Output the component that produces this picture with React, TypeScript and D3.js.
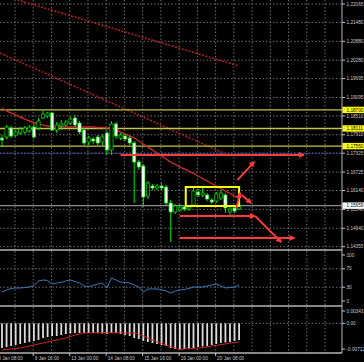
import * as d3 from "d3";

// H4 candles, oldest first
const open = [1.17808, 1.1784, 1.18125, 1.17903, 1.17967, 1.17998, 1.1803, 1.18157, 1.18125, 1.18443, 1.18507, 1.18602, 1.18062, 1.18189, 1.18221, 1.18284, 1.18443, 1.18284, 1.18062, 1.17681, 1.17776, 1.1784, 1.17681, 1.17967, 1.17427, 1.18253, 1.17808, 1.17871, 1.17808, 1.17649, 1.17045, 1.16918, 1.15965, 1.16283, 1.16219, 1.16283, 1.16251, 1.15743, 1.15457, 1.1552, 1.15616, 1.15552, 1.15679, 1.16092, 1.15997, 1.15997, 1.15838, 1.15806, 1.15902, 1.15997, 1.15457, 1.15584, 1.15552];
const high = [1.17903, 1.18221, 1.18189, 1.18062, 1.18157, 1.18189, 1.18221, 1.18253, 1.18443, 1.18697, 1.18634, 1.18634, 1.18316, 1.1838, 1.1838, 1.18475, 1.18538, 1.18348, 1.18125, 1.17871, 1.1784, 1.17903, 1.17935, 1.1803, 1.18348, 1.18316, 1.17967, 1.17935, 1.17871, 1.17712, 1.17109, 1.16982, 1.16442, 1.16346, 1.16346, 1.16378, 1.16315, 1.15838, 1.15711, 1.15711, 1.15679, 1.15679, 1.16283, 1.16187, 1.16219, 1.1606, 1.15902, 1.16092, 1.16156, 1.1606, 1.15616, 1.15647, 1.15711];
const low = [1.17522, 1.17776, 1.17808, 1.1784, 1.17903, 1.17935, 1.17967, 1.17776, 1.18062, 1.18411, 1.18443, 1.1803, 1.17967, 1.18062, 1.18157, 1.18221, 1.18157, 1.17935, 1.17585, 1.17585, 1.17617, 1.17585, 1.17554, 1.17268, 1.17268, 1.17776, 1.17744, 1.17712, 1.17585, 1.15743, 1.16791, 1.15616, 1.1587, 1.16156, 1.16156, 1.16156, 1.15679, 1.14504, 1.15393, 1.15457, 1.15489, 1.15489, 1.15616, 1.15933, 1.15933, 1.15806, 1.15711, 1.15743, 1.15838, 1.15425, 1.15362, 1.15425, 1.1552];
const close = [1.17744, 1.18157, 1.17871, 1.17998, 1.18094, 1.18125, 1.18157, 1.1784, 1.18348, 1.1857, 1.18602, 1.18062, 1.18221, 1.18253, 1.18316, 1.18411, 1.18221, 1.17998, 1.17649, 1.17808, 1.17712, 1.17649, 1.1784, 1.17427, 1.18253, 1.17871, 1.17903, 1.17776, 1.17649, 1.17045, 1.16886, 1.15933, 1.16378, 1.16219, 1.16283, 1.16219, 1.15743, 1.15457, 1.15647, 1.15616, 1.15552, 1.15616, 1.16124, 1.15997, 1.1606, 1.1587, 1.15774, 1.16029, 1.1606, 1.15584, 1.15552, 1.15489, 1.15659];

// moving average on the price panel
const ma = [1.18761, 1.18666, 1.18602, 1.18538, 1.18475, 1.18411, 1.18348, 1.183, 1.18253, 1.18221, 1.18189, 1.18173, 1.18157, 1.18157, 1.18157, 1.18157, 1.18157, 1.18157, 1.18157, 1.18157, 1.18157, 1.18141, 1.18141, 1.18125, 1.1811, 1.18062, 1.17998, 1.17935, 1.17871, 1.17808, 1.17712, 1.17617, 1.17522, 1.17427, 1.17331, 1.17236, 1.17141, 1.17045, 1.16966, 1.16886, 1.16823, 1.16759, 1.1668, 1.16601, 1.16521, 1.16442, 1.16362, 1.16283, 1.16203, 1.16124, 1.16045, 1.15965, 1.15902];

const rsi = [19.6, 23.9, 27.2, 28.3, 28.3, 29.3, 30.4, 33.7, 43.5, 45.7, 44.6, 37.0, 39.1, 40.2, 43.5, 45.7, 42.4, 39.1, 32.6, 31.5, 33.7, 37.0, 39.1, 28.3, 50.0, 45.7, 41.3, 40.2, 39.1, 34.8, 30.4, 19.6, 26.1, 26.1, 26.1, 25.0, 21.7, 17.4, 21.7, 23.9, 25.0, 27.2, 30.4, 30.4, 30.4, 32.6, 34.8, 37.0, 32.6, 28.3, 29.3, 30.4, 34.8];

const macd = [-0.00684, -0.00657, -0.00629, -0.00601, -0.00573, -0.00545, -0.00518, -0.0049, -0.00462, -0.00407, -0.00379, -0.00351, -0.00351, -0.00323, -0.00296, -0.00282, -0.00268, -0.00268, -0.00268, -0.00268, -0.00268, -0.00268, -0.00282, -0.00296, -0.00268, -0.00268, -0.00296, -0.00323, -0.00351, -0.00407, -0.00434, -0.0049, -0.00518, -0.00545, -0.00573, -0.00601, -0.00629, -0.00684, -0.00712, -0.00712, -0.00712, -0.00698, -0.00684, -0.00657, -0.00643, -0.00629, -0.00601, -0.00573, -0.00545, -0.00532, -0.00518, -0.0049, -0.00462];
const signal = [-0.0074, -0.00726, -0.00712, -0.00698, -0.00684, -0.00657, -0.00629, -0.00601, -0.00573, -0.00545, -0.00518, -0.0049, -0.00462, -0.00434, -0.00407, -0.00365, -0.00323, -0.00296, -0.00268, -0.00268, -0.0026, -0.0026, -0.0026, -0.0026, -0.0026, -0.0026, -0.0026, -0.00268, -0.00268, -0.00268, -0.00296, -0.00351, -0.00407, -0.00462, -0.00518, -0.00559, -0.00601, -0.00643, -0.00684, -0.00726, -0.00712, -0.00704, -0.00698, -0.00684, -0.0067, -0.00657, -0.00629, -0.00615, -0.00587, -0.00573, -0.00545, -0.00532, -0.00518];

const priceTicks = ["1.22065", "1.21480", "1.20880", "1.20280", "1.19695", "1.19095", "1.18510", "1.17910", "1.17325", "1.16725", "1.16140", "1.15540", "1.14940", "1.14355"];
const timeLabels = ["8 Jan 08:00", "9 Jan 16:00", "13 Jan 00:00", "14 Jan 08:00", "15 Jan 16:00", "19 Jan 00:00", "20 Jan 08:00"];
const levels = ["1.18700", "1.18111", "1.17550"];
const bid = "1.15659";
const blueLevel = 1.17325;

// drawn objects: [bar, price] pairs
const trendLines = [
  [[3.4, 1.22192], [52, 1.20095]],
  [[-0.45, 1.20508], [50, 1.17236]],
];
const arrows = [
  [[26, 1.17268], [66.2, 1.17268]],
  [[51.6, 1.16473], [55.3, 1.17045]],
  [[51.4, 1.15584], [52.2, 1.1606]],
  [[52.6, 1.15997], [54.6, 1.15743]],
  [[39, 1.1533], [55.4, 1.1533]],
  [[55.5, 1.1533], [61.2, 1.14504]],
  [[39, 1.14631], [64.1, 1.14631]],
];
const box = [[40.3, 1.16251], [52, 1.15647]];

const FONT = "'Liberation Sans', Arial, sans-serif";
const GRID = "#6e6e6e";
const TXT = "#c8c8c8";

export default function App() {
  const right = 342;
  const x = d3.scaleLinear().domain([0, 52]).range([2, 239.1]);
  const y = d3.scaleLinear().domain([1.1425, 1.22192]).range([250, 0]);
  const yR = d3.scaleLinear().domain([0, 100]).range([301, 255]);
  const yM = d3.scaleLinear().domain([-0.00712, 0.00343]).range([349, 311]);
  const gridX = d3.range(-1, 18).map((k) => x(2.85 + 4 * k));

  const maLine = d3.line<number>().x((_, i) => x(i)).y((d) => y(d)).curve(d3.curveMonotoneX);
  const rsiLine = d3.line<number>().x((_, i) => x(i)).y((d) => yR(d));
  const sigLine = d3.line<number>().x((_, i) => x(i)).y((d) => yM(d)).curve(d3.curveMonotoneX);

  const vGrid = (y0: number, y1: number) =>
    gridX.filter((g) => g > 0 && g < right).map((g, i) => (
      <line key={i} x1={g} x2={g} y1={y0} y2={y1} stroke={GRID} strokeDasharray="1.5,2" />
    ));

  const label = (txt: string, py: number, bg?: string, key?: string | number) => (
    <g key={key}>
      {bg && <rect x={right + 0.5} y={py - 3.2} width={22} height={6.4} fill={bg} />}
      <line x1={right} x2={right + 3} y1={py} y2={py} stroke={TXT} />
      <text x={right + 4.5} y={py} dy="0.35em" fontSize={4.7} fill={bg ? "#000" : TXT}>{txt}</text>
    </g>
  );

  return (
    <svg width={364} height={362} style={{ position: "absolute", left: 0, top: 0, display: "block" }} fontFamily={FONT}>
      <defs>
        <clipPath id="main"><rect x={0} y={0} width={right} height={250} /></clipPath>
        <marker id="ah" viewBox="0 0 10 10" refX={8} refY={5} markerWidth={6} markerHeight={6} markerUnits="userSpaceOnUse" orient="auto">
          <path d="M0,0L10,5L0,10z" fill="#ff3c3c" />
        </marker>
      </defs>
      <rect width={364} height={362} fill="#000" />

      {/* main panel grid */}
      {vGrid(0, 250)}
      {priceTicks.map((t, i) => (
        <line key={i} x1={0} x2={right} y1={y(+t)} y2={y(+t)} stroke={GRID} strokeDasharray="1.5,2" />
      ))}

      <g clipPath="url(#main)">
        {trendLines.map((l, i) => (
          <line key={i} x1={x(l[0][0])} y1={y(l[0][1])} x2={x(l[1][0])} y2={y(l[1][1])}
            stroke="#b42020" strokeWidth={1.5} strokeDasharray="2,1.5" />
        ))}
        {levels.map((l, i) => (
          <line key={i} x1={0} x2={right} y1={y(+l)} y2={y(+l)} stroke="#c4c448" strokeWidth={1.4} />
        ))}
        <line x1={0} x2={right} y1={y(blueLevel)} y2={y(blueLevel)} stroke="#4a55c8" strokeDasharray="1.5,1.5" />
        <line x1={0} x2={right} y1={y(+bid)} y2={y(+bid)} stroke="#8c8c8c" strokeWidth={1.2} />
        <path d={maLine(ma) ?? ""} fill="none" stroke="#c62e26" strokeWidth={1.4} />

        {open.map((o, i) => {
          const c = close[i];
          const bull = c >= o;
          const top = y(Math.max(o, c));
          const h = Math.max(1, Math.abs(y(o) - y(c)));
          return (
            <g key={i}>
              <line x1={x(i)} x2={x(i)} y1={y(high[i])} y2={y(low[i])} stroke="#00e600" />
              <rect x={x(i) - 1.6} y={top} width={3.2} height={h} fill={bull ? "#000" : "#fff"} stroke="#00e600" strokeWidth={0.7} />
            </g>
          );
        })}

        <rect x={x(box[0][0])} y={y(box[0][1])} width={x(box[1][0]) - x(box[0][0])} height={y(box[1][1]) - y(box[0][1])}
          fill="none" stroke="#ffff00" strokeWidth={2} />

        {arrows.map((a, i) => (
          <line key={i} x1={x(a[0][0])} y1={y(a[0][1])} x2={x(a[1][0])} y2={y(a[1][1])}
            stroke="#ff3c3c" strokeWidth={1.8} markerEnd="url(#ah)" />
        ))}
      </g>

      {/* RSI panel */}
      {vGrid(251, 306)}
      {[70, 30].map((v) => (
        <line key={v} x1={0} x2={right} y1={yR(v)} y2={yR(v)} stroke={GRID} strokeDasharray="1.5,2" />
      ))}
      <path d={rsiLine(rsi) ?? ""} fill="none" stroke="#3f78c0" strokeWidth={1} />

      {/* MACD panel */}
      {vGrid(307, 353)}
      <line x1={0} x2={right} y1={yM(0)} y2={yM(0)} stroke={GRID} strokeDasharray="1.5,2" />
      {macd.map((v, i) => (
        <rect key={i} x={x(i) - 0.9} y={yM(0)} width={1.8} height={yM(v) - yM(0)} fill="#dcdcdc" />
      ))}
      <path d={sigLine(signal) ?? ""} fill="none" stroke="#d0281e" strokeWidth={1} />

      {/* frames */}
      {[250, 306, 353].map((v) => (
        <line key={v} x1={0} x2={right} y1={v} y2={v} stroke="#b4b4b4" strokeWidth={1.5} />
      ))}
      <line x1={right} x2={right} y1={0} y2={353} stroke="#b4b4b4" strokeWidth={1} />

      {/* price axis */}
      {priceTicks.map((t, i) => label(t, y(+t), undefined, i))}
      {levels.map((l, i) => label(l, y(+l), "#ffff00", "l" + i))}
      {label(bid, y(+bid), "#ffffff", "bid")}

      {/* indicator axes */}
      {[100, 70, 30, 0].map((v) => label(String(v), yR(v), undefined, "r" + v))}
      {label("0.00343", yM(0.00343), undefined, "m1")}
      {label("0.00", yM(0), undefined, "m2")}
      {label("-0.00712", yM(-0.00712), undefined, "m3")}

      {/* time axis */}
      {timeLabels.map((t, i) => {
        const gx = x(2.85 + 4 * (2 * i - 1));
        return (
          <g key={t}>
            <line x1={gx} x2={gx} y1={353} y2={356} stroke={TXT} />
            <text x={gx + 1.5} y={359.5} fontSize={4.7} fill={TXT}>{t}</text>
          </g>
        );
      })}
    </svg>
  );
}
